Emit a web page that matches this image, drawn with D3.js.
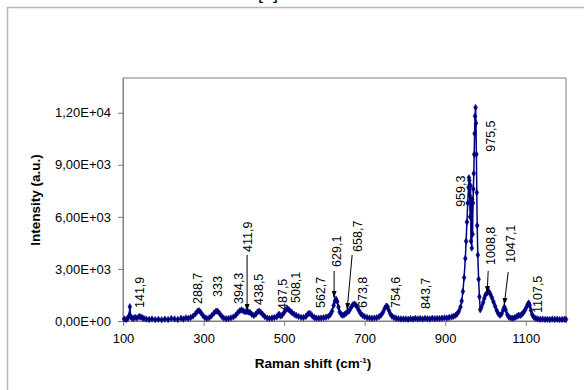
<!DOCTYPE html>
<html>
<head>
<meta charset="utf-8">
<script src="https://cdn.jsdelivr.net/npm/d3@7"></script>
<style>
  body { margin: 0; background: #fff; }
  svg { display: block; font-family: "Liberation Sans", Arial, sans-serif; }
</style>
</head>
<body>
<div class="chart-container"></div>
<script>
// Raman spectrum (cm-1, a.u.)
const ramanShift = [
  103, 108, 112, 115, 117, 119, 122, 126, 130, 135, 140, 144, 148, 152, 158, 165, 172, 180, 188, 196,
  204, 212, 220, 228, 236, 244, 250, 256, 262, 268, 274, 280, 285, 289, 293, 298, 303, 308, 314, 320,
  326, 331, 335, 340, 345, 350, 356, 362, 368, 374, 380, 385, 390, 394, 398, 403, 408, 412, 416, 420,
  425, 430, 434, 438, 442, 447, 452, 458, 464, 470, 476, 482, 486, 488, 491, 495, 500, 504, 508, 512,
  516, 520, 525, 530, 536, 542, 548, 554, 558, 562, 566, 570, 575, 580, 586, 592, 598, 604, 610, 615,
  619, 623, 626, 629, 632, 635, 638, 642, 646, 650, 654, 658, 662, 666, 670, 674, 678, 682, 686, 690,
  695, 700, 706, 712, 718, 724, 730, 736, 741, 746, 750, 754, 757, 760, 764, 768, 773, 778, 784, 790,
  796, 802, 808, 814, 820, 826, 832, 838, 844, 850, 856, 862, 868, 874, 880, 886, 892, 898, 904, 910,
  916, 921, 926, 930, 934, 938, 941, 944, 947, 950, 952, 954, 956, 958, 959, 960, 961, 962, 963, 964,
  965, 966, 967, 968, 969, 970, 971, 972, 973, 974, 975.5, 976.5, 977.5, 978.5, 979.5, 981, 983, 985, 987, 990,
  994, 997, 1000, 1004, 1008.8, 1012, 1016, 1020, 1024, 1028, 1032, 1036, 1040, 1044, 1047, 1050, 1054, 1058, 1063, 1068,
  1073, 1078, 1082, 1086, 1090, 1094, 1098, 1102, 1105, 1107.5, 1110, 1113, 1116, 1120, 1125, 1130, 1136, 1142, 1148, 1154,
  1160, 1166, 1172, 1178, 1184, 1190, 1196, 1200
];
const intensity = [
  120, 90, 150, 300, 820, 260, 180, 150, 210, 170, 260, 230, 190, 140, 110, 90, 120, 80, 100, 70,
  110, 90, 140, 120, 90, 160, 110, 180, 150, 200, 280, 420, 560, 590, 500, 330, 200, 150, 180, 300,
  460, 570, 560, 430, 270, 170, 130, 140, 180, 230, 330, 480, 590, 640, 590, 530, 540, 520, 480, 380,
  320, 400, 520, 570, 510, 380, 260, 170, 150, 170, 200, 250, 360, 380, 290, 330, 490, 640, 720, 650,
  560, 470, 390, 320, 260, 210, 200, 260, 370, 440, 410, 290, 200, 170, 160, 170, 190, 220, 270, 380,
  560, 900, 1150, 1260, 1120, 800, 520, 370, 330, 380, 450, 520, 600, 760, 920, 980, 930, 780, 600, 430,
  320, 250, 200, 170, 160, 170, 190, 250, 350, 520, 740, 860, 820, 620, 400, 270, 200, 160, 130, 120,
  110, 120, 100, 130, 110, 150, 120, 140, 110, 150, 130, 120, 160, 130, 150, 140, 160, 180, 170, 200,
  230, 270, 330, 420, 560, 800, 1150, 1700, 2500, 3600, 4600, 5700, 6800, 7700, 8250, 8100, 7200, 6000, 7800, 4600,
  6500, 4200, 7000, 5000, 6800, 7600, 8500, 9600, 10800, 11800, 12300, 11400, 9600, 7400, 5500, 3800, 2400, 1400, 650, 800,
  1050, 1300, 1500, 1620, 1680, 1550, 1350, 1100, 850, 600, 420, 330, 400, 640, 800, 650, 380, 230, 170, 160,
  200, 260, 330, 320, 380, 480, 620, 800, 960, 1040, 900, 620, 380, 220, 150, 120, 100, 110, 90, 100,
  80, 110, 90, 100, 80, 90, 100, 90
];

const xTicks = [100, 300, 500, 700, 900, 1100];
const yTicks = [0, 3000, 6000, 9000, 12000];
const yTickLabels = ["0,00E+00", "3,00E+03", "6,00E+03", "9,00E+03", "1,20E+04"];

// peak labels: text, label anchor (shift, intensity)
const peakLabels = ["141,9", "288,7", "333", "394,3", "411,9", "438,5", "487,5", "508,1", "562,7", "629,1",
  "658,7", "673,8", "754,6", "843,7", "959,3", "975,5", "1008,8", "1047,1", "1107,5"];
const labelShift = [142.2, 283.9, 333.5, 385.7, 408.1, 435.4, 495, 527.3, 589.4, 629.2,
  681.4, 693.8, 775.8, 850.3, 937.3, 1011.8, 1011.8, 1061.5, 1128.6];
const labelIntensity = [750, 981, 1385, 981, 3981, 923, 635, 1038, 750, 3115,
  3981, 750, 750, 692, 6577, 9750, 3231, 3346, 462];

// arrows: from (shift, intensity) to (shift, intensity)
const arrowFrom = [[408.1, 3808], [624.2, 2885], [669, 3808], [1006.8, 2885], [1056.5, 2827]];
const arrowTo = [[408.1, 577], [624.2, 1327], [656.5, 635], [1004.3, 1615], [1046.6, 923]];

const w = 584, h = 390;
const plot = { left: 123, top: 78, right: 566, bottom: 321 };

const svg = d3.select(".chart-container").append("svg")
  .attr("width", w)
  .attr("height", h);

// outer chart frame (runs past the window)
svg.append("rect")
  .attr("x", 7.5).attr("y", 7.5)
  .attr("width", 700).attr("height", 500)
  .attr("fill", "none")
  .attr("stroke", "#b8b8b8")
  .attr("stroke-width", 1.5);

// caption above the frame, mostly outside the window
svg.append("text")
  .attr("x", 268).attr("y", -1.5)
  .attr("text-anchor", "middle")
  .attr("font-size", 18)
  .text("[b]");

const xScale = d3.scaleLinear().domain([100, 1200]).range([plot.left, plot.right]);
const yScale = d3.scaleLinear().domain([0, 14000]).range([plot.bottom, plot.top]);

// plot area border
svg.append("rect")
  .attr("x", plot.left).attr("y", plot.top)
  .attr("width", plot.right - plot.left)
  .attr("height", plot.bottom - plot.top)
  .attr("fill", "none")
  .attr("stroke", "#808080")
  .attr("stroke-width", 1);

const xAxis = svg.append("g")
  .attr("transform", `translate(0, ${plot.bottom})`)
  .call(d3.axisBottom(xScale).tickValues(xTicks).tickSize(5).tickPadding(8).tickSizeOuter(0)
    .tickFormat(d3.format("d")));

const yAxis = svg.append("g")
  .attr("transform", `translate(${plot.left}, 0)`)
  .call(d3.axisLeft(yScale).tickValues(yTicks).tickSize(5).tickPadding(7).tickSizeOuter(0)
    .tickFormat((d, i) => yTickLabels[i]));

[xAxis, yAxis].forEach(g => {
  g.select(".domain").attr("stroke", "#808080");
  g.selectAll(".tick line").attr("stroke", "#808080");
  g.selectAll(".tick text")
    .attr("font-size", 13)
    .attr("font-family", "Liberation Sans, Arial, sans-serif")
    .attr("fill", "#000");
});

// spectrum
const points = ramanShift.map((d, i) => [d, intensity[i]]);

svg.append("path")
  .datum(points)
  .attr("fill", "none")
  .attr("stroke", "#000080")
  .attr("stroke-width", 1.5)
  .attr("d", d3.line().x(d => xScale(d[0])).y(d => yScale(d[1])));

svg.append("g")
  .selectAll("path")
  .data(points)
  .enter()
  .append("path")
  .attr("transform", d => `translate(${xScale(d[0])}, ${yScale(d[1])})`)
  .attr("d", d3.symbol(d3.symbolDiamond, 12))
  .attr("fill", "#000080")
  .attr("stroke", "#000080")
  .attr("stroke-width", 0.6);

// arrows
svg.append("defs").append("marker")
  .attr("id", "head")
  .attr("viewBox", "0 0 10 10")
  .attr("refX", 10).attr("refY", 5)
  .attr("markerWidth", 7).attr("markerHeight", 5)
  .attr("markerUnits", "userSpaceOnUse")
  .attr("orient", "auto")
  .attr("preserveAspectRatio", "none")
  .append("path")
  .attr("d", "M0,0 L10,5 L0,10 Z")
  .attr("fill", "#000");

svg.append("g")
  .selectAll("line")
  .data(arrowFrom)
  .enter()
  .append("line")
  .attr("x1", d => xScale(d[0]))
  .attr("y1", d => yScale(d[1]))
  .attr("x2", (d, i) => xScale(arrowTo[i][0]))
  .attr("y2", (d, i) => yScale(arrowTo[i][1]))
  .attr("stroke", "#000")
  .attr("stroke-width", 1)
  .attr("marker-end", "url(#head)");

// peak labels, rotated
svg.append("g")
  .selectAll("text")
  .data(peakLabels)
  .enter()
  .append("text")
  .attr("transform", (d, i) => `translate(${xScale(labelShift[i]) + 4.5}, ${yScale(labelIntensity[i])}) rotate(-90)`)
  .attr("font-size", 12.5)
  .attr("fill", "#000")
  .text(d => d);

// axis titles
const xTitle = svg.append("text")
  .attr("x", 313).attr("y", 368)
  .attr("text-anchor", "middle")
  .attr("font-size", 13.5)
  .attr("font-weight", "bold");
xTitle.append("tspan").text("Raman shift (cm");
xTitle.append("tspan").attr("font-size", 8).attr("dy", -5).text("-1");
xTitle.append("tspan").attr("dy", 5).text(")");

svg.append("text")
  .attr("transform", "translate(40, 200) rotate(-90)")
  .attr("text-anchor", "middle")
  .attr("font-size", 13.5)
  .attr("font-weight", "bold")
  .text("Intensity (a.u.)");
</script>
</body>
</html>
